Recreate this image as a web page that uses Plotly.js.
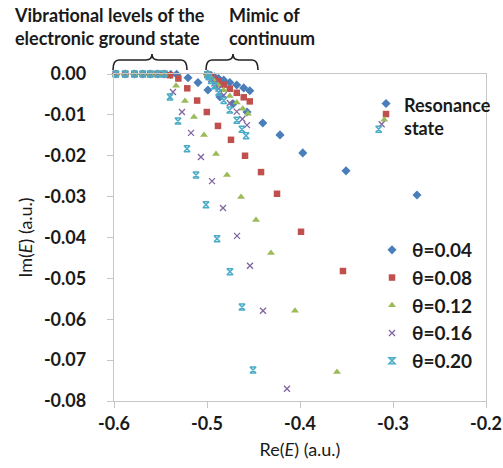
<!DOCTYPE html>
<html>
<head>
<meta charset="utf-8">
<script src="https://cdn.plot.ly/plotly-3.0.1.min.js"></script>
<style>html,body{margin:0;padding:0;background:#fff;}#chart{width:503px;height:468px;}</style>
</head>
<body>
<div id="chart"></div>
<script>
// ---- data ----
const seriesNames = ['θ=0.04', 'θ=0.08', 'θ=0.12', 'θ=0.16', 'θ=0.20'];

// θ = 0.04 : bound states, rotated arm, continuum line, resonance
const re04 = [-0.598, -0.588, -0.578, -0.569, -0.561, -0.553, -0.546, -0.539, -0.5326,
  -0.5204, -0.5097, -0.499, -0.486, -0.472, -0.457, -0.440, -0.4215, -0.397, -0.3505, -0.2742,
  -0.4995, -0.498, -0.4955, -0.492, -0.4875, -0.482, -0.4755, -0.468, -0.4605, -0.454,
  -0.3075];
const im04 = [0, 0, 0, 0, 0, 0, 0, -0.0001, -0.0001,
  -0.0009, -0.0021, -0.0039, -0.0056, -0.0073, -0.0093, -0.0120, -0.0149, -0.0193, -0.0237, -0.0296,
  -0.00005, -0.0002, -0.0004, -0.0007, -0.0011, -0.0015, -0.0021, -0.0027, -0.0034, -0.0041,
  -0.0072];

// θ = 0.08
const re08 = [-0.598, -0.588, -0.578, -0.569, -0.561, -0.553, -0.546,
  -0.5398, -0.5308, -0.5212, -0.5106, -0.5002, -0.4882, -0.4742, -0.4591, -0.4419, -0.4247, -0.3989, -0.3538,
  -0.4995, -0.498, -0.4955, -0.492, -0.4875, -0.482, -0.4755, -0.468, -0.4605, -0.454,
  -0.3075];
const im08 = [0, 0, 0, 0, 0, 0, 0,
  -0.0003, -0.0011, -0.0035, -0.0065, -0.0093, -0.0127, -0.0161, -0.0200, -0.0240, -0.0293, -0.0386, -0.0482,
  -0.0001, -0.0003, -0.0007, -0.0012, -0.0018, -0.0026, -0.0036, -0.0046, -0.0057, -0.0067,
  -0.0098];

// θ = 0.12
const re12 = [-0.598, -0.588, -0.578, -0.569, -0.561, -0.553, -0.546,
  -0.5333, -0.5237, -0.5140, -0.5032, -0.4903, -0.4785, -0.4634, -0.4473, -0.4312, -0.4054, -0.3602,
  -0.4995, -0.498, -0.4955, -0.492, -0.4875, -0.482, -0.4755, -0.468, -0.4615, -0.456,
  -0.3094];
const im12 = [0, 0, 0, 0, 0, 0, 0,
  -0.0029, -0.0066, -0.0105, -0.0149, -0.0196, -0.0247, -0.0301, -0.0357, -0.0438, -0.0579, -0.0729,
  -0.0001, -0.0004, -0.0010, -0.0018, -0.0028, -0.0040, -0.0054, -0.0070, -0.0085, -0.0097,
  -0.0112];

// θ = 0.16
const re16 = [-0.598, -0.588, -0.578, -0.569, -0.561, -0.553, -0.546,
  -0.5366, -0.5269, -0.5172, -0.5065, -0.4946, -0.4828, -0.4677, -0.4538, -0.4398, -0.4140,
  -0.4995, -0.498, -0.4955, -0.492, -0.4875, -0.482, -0.4755, -0.468, -0.462, -0.457,
  -0.3122];
const im16 = [0, 0, 0, 0, 0, 0, 0,
  -0.0044, -0.0093, -0.0144, -0.0203, -0.0262, -0.0328, -0.0396, -0.0469, -0.0579, -0.0770,
  -0.00015, -0.0006, -0.0013, -0.0023, -0.0036, -0.0052, -0.0071, -0.0092, -0.0110, -0.0125,
  -0.0123];

// θ = 0.20
const re20 = [-0.598, -0.588, -0.578, -0.569, -0.561, -0.553, -0.546,
  -0.5398, -0.5312, -0.5215, -0.5118, -0.5011, -0.4892, -0.4753, -0.4624, -0.4505,
  -0.4995, -0.498, -0.4955, -0.492, -0.4875, -0.482, -0.4755, -0.468, -0.4625, -0.458,
  -0.3154];
const im20 = [0, 0, 0, 0, 0, 0, 0,
  -0.0056, -0.0115, -0.0183, -0.0247, -0.0320, -0.0403, -0.0484, -0.0570, -0.0724,
  -0.0002, -0.0007, -0.0016, -0.0029, -0.0045, -0.0065, -0.0088, -0.0113, -0.0135, -0.0151,
  -0.0135];

const xTickVals = [-0.6, -0.5, -0.4, -0.3, -0.2];
const xTickText = ['-0.6', '-0.5', '-0.4', '-0.3', '-0.2'];
const yTickVals = [0, -0.01, -0.02, -0.03, -0.04, -0.05, -0.06, -0.07, -0.08];
const yTickText = ['0.00', '-0.01', '-0.02', '-0.03', '-0.04', '-0.05', '-0.06', '-0.07', '-0.08'];

// ---- styles ----
const colors = ['#4A7EBB', '#C0504D', '#9BBB59', '#8064A2', '#4BACC6'];
const FONT = 'Lato, "Open Sans", "Liberation Sans", sans-serif';

const xs = [re04, re08, re12, re16, re20];
const ys = [im04, im08, im12, im16, im20];
const markers = [
  {symbol: 'diamond', size: 7, color: colors[0], line: {width: 0}},
  {symbol: 'square', size: 6.5, color: colors[1], line: {width: 0}},
  {symbol: 'triangle-up', size: 7, color: colors[2], line: {width: 0}},
  {symbol: 'x-thin-open', size: 6, color: colors[3], line: {width: 1.3, color: colors[3]}},
  {symbol: 'hourglass-open', size: 6, color: colors[4], line: {width: 1.5, color: colors[4]}}
];

const traces = seriesNames.map((n, i) => ({
  type: 'scatter', mode: 'markers', name: n,
  x: xs[i], y: ys[i], marker: markers[i], cliponaxis: false
}));

// plot-area geometry (pixels) used for the paper-coordinate annotations
const L = 114, R = 486, T = 74, B = 401;
const px = v => (v - L) / (R - L);
const py = v => (B - v) / (B - T);
function brace(x1, xt, x2) {
  const yb = 70, yl = 60, yt = 54, c = 6;
  return `M ${px(x1)},${py(yb)} Q ${px(x1)},${py(yl)} ${px(x1 + c)},${py(yl)} ` +
         `L ${px(xt - c)},${py(yl)} Q ${px(xt)},${py(yl)} ${px(xt)},${py(yt)} ` +
         `Q ${px(xt)},${py(yl)} ${px(xt + c)},${py(yl)} L ${px(x2 - c)},${py(yl)} ` +
         `Q ${px(x2)},${py(yl)} ${px(x2)},${py(yb)}`;
}

const annFont = {family: FONT, size: 18, color: '#1a1a1a', weight: 700};
const layout = {
  width: 503, height: 468,
  margin: {l: L, r: 503 - R, t: T, b: 468 - B},
  paper_bgcolor: '#fff', plot_bgcolor: '#fff',
  showlegend: true,
  legend: {x: px(372), y: py(231), xanchor: 'left', yanchor: 'top',
           font: {family: FONT, size: 19, color: '#1a1a1a', weight: 700},
           bgcolor: 'rgba(0,0,0,0)', itemwidth: 30},
  xaxis: {range: [-0.6, -0.2], tickvals: xTickVals, ticktext: xTickText,
          showgrid: false, zeroline: false, showline: true, mirror: true,
          linecolor: '#c6c6c6', linewidth: 1.2, ticks: 'outside', ticklen: 6, tickcolor: '#c6c6c6',
          tickfont: {family: FONT, size: 18, color: '#1a1a1a', weight: 700},
          title: {text: 'Re(<i>E</i>) (a.u.)', font: {family: FONT, size: 18, color: '#1a1a1a'}, standoff: 10}},
  yaxis: {range: [-0.08, 0], tickvals: yTickVals, ticktext: yTickText,
          showgrid: false, zeroline: false, showline: true, mirror: true,
          linecolor: '#c6c6c6', linewidth: 1.2, ticks: 'outside', ticklen: 6, tickcolor: '#c6c6c6',
          ticklabelstandoff: 17,
          tickfont: {family: FONT, size: 18, color: '#1a1a1a', weight: 700},
          title: {text: 'Im(<i>E</i>) (a.u.)', font: {family: FONT, size: 18, color: '#1a1a1a'}, standoff: 6}},
  shapes: [
    {type: 'path', xref: 'paper', yref: 'paper', path: brace(113, 152, 187), line: {color: '#222', width: 1.6}},
    {type: 'path', xref: 'paper', yref: 'paper', path: brace(206, 233, 258), line: {color: '#222', width: 1.6}}
  ],
  annotations: [
    {xref: 'paper', yref: 'paper', x: px(12), y: py(27), xanchor: 'left', yanchor: 'middle', align: 'left',
     showarrow: false, text: 'Vibrational levels of the<br>electronic ground state', font: annFont},
    {xref: 'paper', yref: 'paper', x: px(227), y: py(27), xanchor: 'left', yanchor: 'middle', align: 'left',
     showarrow: false, text: 'Mimic of<br>continuum', font: annFont},
    {xref: 'paper', yref: 'paper', x: px(402), y: py(116), xanchor: 'left', yanchor: 'middle', align: 'left',
     showarrow: false, text: 'Resonance<br>state', font: annFont}
  ]
};

Plotly.newPlot('chart', traces, layout, {displayModeBar: false, staticPlot: true});
</script>
</body>
</html>
